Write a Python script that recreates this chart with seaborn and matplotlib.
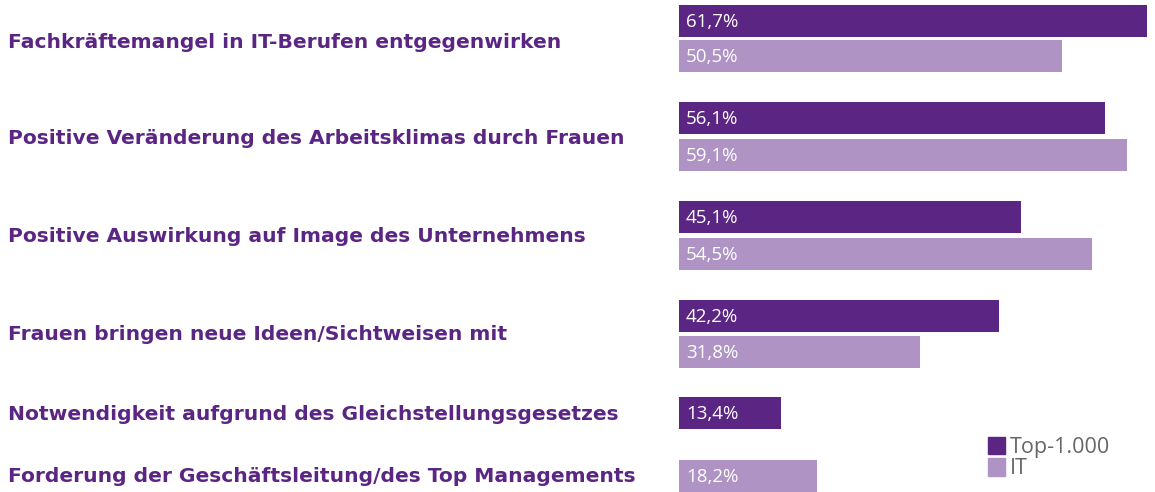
import pandas as pd
import numpy as np
import matplotlib.pyplot as plt
import seaborn as sns

sns.set_theme(style="white")
plt.rcParams['font.family'] = ['Open Sans', 'DejaVu Sans']

DARK = '#5b2583'
LIGHT = '#ae93c4'

# data
categories = [
    "Fachkräftemangel in IT-Berufen entgegenwirken",
    "Positive Veränderung des Arbeitsklimas durch Frauen",
    "Positive Auswirkung auf Image des Unternehmens",
    "Frauen bringen neue Ideen/Sichtweisen mit",
    "Notwendigkeit aufgrund des Gleichstellungsgesetzes",
    "Forderung der Geschäftsleitung/des Top Managements",
]
top1000 = [61.7, 56.1, 45.1, 42.2, 13.4, None]
it_vals = [50.5, 59.1, 54.5, 31.8, None, 18.2]
series_names = ["Top-1.000", "IT"]

# layout (pixel rows, top = 0)
label_y = [42, 138, 237, 334, 415, 477]
dark_y = [21, 118, 217, 316, 413, 0]
light_y = [56, 155, 254, 352, 0, 476]

rows = []
for i, cat in enumerate(categories):
    if top1000[i] is not None:
        rows.append((cat, series_names[0], top1000[i], dark_y[i]))
    if it_vals[i] is not None:
        rows.append((cat, series_names[1], it_vals[i], light_y[i]))
df = pd.DataFrame(rows, columns=['category', 'series', 'value', 'ypos'])

W, H = 1155, 492
fig = plt.figure(figsize=(W / 100, H / 100), dpi=100)
ax = fig.add_axes([0, 0, 1, 1])

px_per_pct = (1147 - 679) / 61.7
x0 = 679
ax.set_xlim(-x0 / px_per_pct, (W - x0) / px_per_pct)

min_gap = np.diff(np.sort(df['ypos'].unique())).min()
sns.barplot(data=df, x='value', y='ypos', hue='series', orient='h',
            native_scale=True, dodge=False, palette=[DARK, LIGHT],
            hue_order=series_names, width=32 / min_gap, saturation=1,
            linewidth=0, legend=False, ax=ax)
ax.set_ylim(H, 0)
ax.axis('off')

# value labels inside bars
for _, r in df.iterrows():
    ax.text(7 / px_per_pct, r['ypos'] + 1, f"{r['value']:.1f}%".replace('.', ','),
            color='white', fontsize=13.5, va='center', ha='left')

# category labels
ytr = ax.get_yaxis_transform()
for cat, y in zip(categories, label_y):
    ax.text(8 / W, y, cat, transform=ytr, color=DARK, fontsize=14.6,
            fontweight='bold', va='center', ha='left', family='DejaVu Sans')

# legend
handles = [plt.Rectangle((0, 0), 1, 1, color=c) for c in [DARK, LIGHT]]
leg = fig.legend(handles, series_names, loc='lower left',
                 bbox_to_anchor=(977 / W, 2 / H), frameon=False,
                 fontsize=15.5, handlelength=0.78, handleheight=0.9,
                 handletextpad=0.25, labelspacing=0.0, borderpad=0)
for t in leg.get_texts():
    t.set_color('#666666')

fig.savefig('out.png', dpi=100)
